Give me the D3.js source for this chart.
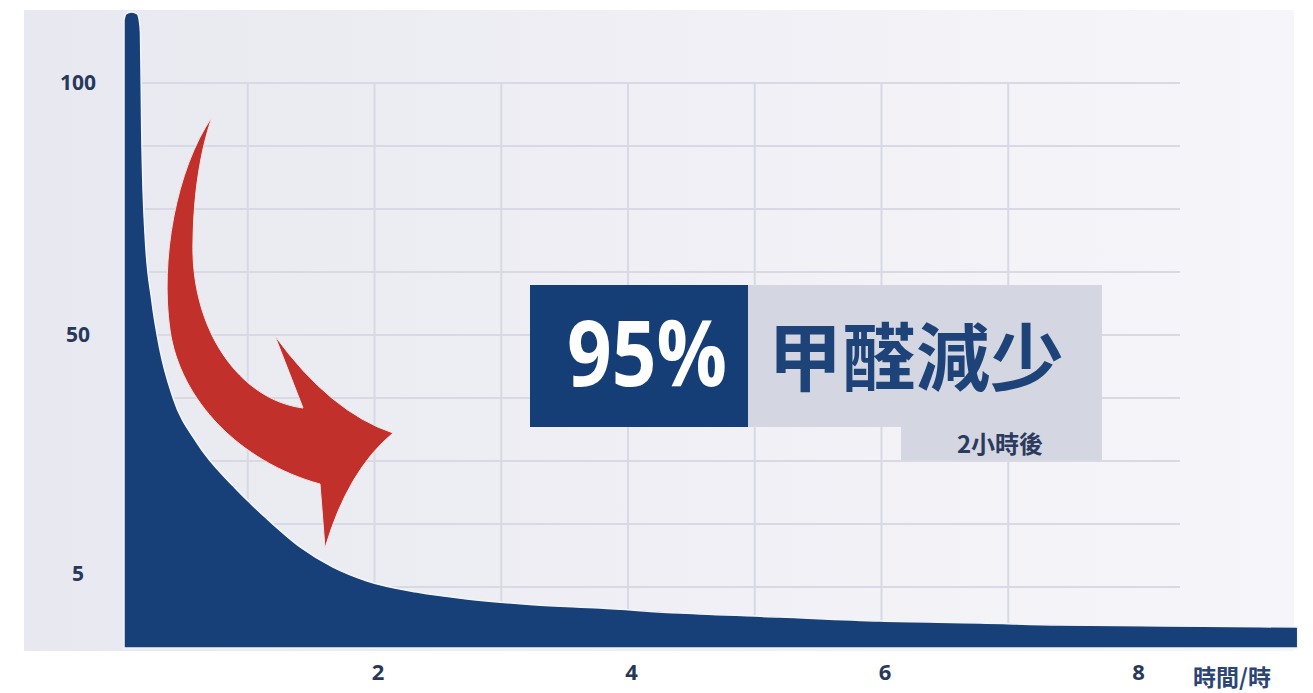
<!DOCTYPE html>
<html lang="zh-Hant">
<head>
    <meta charset="UTF-8">
    <title>甲醛減少</title>
    <style>
        body { margin: 0; background: #ffffff; font-family: "Open Sans", "Noto Sans", sans-serif; }
        .grid line { stroke: #d8d9e2; stroke-width: 2; }
        .tick-label { font-weight: 700; fill: #27385a; }
        .cjk { font-family: "Noto Sans CJK TC", "Noto Sans CJK SC", sans-serif; font-weight: 700; }
    </style>
</head>
<body>
    <svg id="chart" width="1313" height="693"></svg>
    <script src="https://d3js.org/d3.v7.min.js"></script>
    <script>
        // curve: formaldehyde level over time (hours)
        const hours = [0, 0.015, 0.06, 0.105, 0.12, 0.13, 0.14, 0.166, 0.2185, 0.284, 0.387, 0.576, 0.86, 1.128, 1.389, 1.649, 1.917, 2.31, 2.706, 3.227, 3.755, 4.387, 5.175, 5.964, 6.753, 7.385, 9.26];
        const level = [112.5, 113.7, 114.1, 113.7, 112.5, 110, 90, 70, 57, 47.2, 38.2, 29.7, 21.6, 15.4, 10.1, 6.3, 4.53, 3.78, 3.31, 2.93, 2.7, 2.36, 2.09, 1.82, 1.69, 1.55, 1.42];

        const xTicks = [2, 4, 6, 8];
        const yTicks = [100, 50, 5];
        const gridHours = [1, 2, 3, 4, 5, 6, 7];
        const gridRows = [0, 1, 2, 3, 4, 5, 6, 7, 8];

        const svg = d3.select("#chart");

        const x = d3.scaleLinear().domain([0, 8]).range([124, 1138]);
        // uneven value axis, as in the original graphic
        const y = d3.scaleLinear().domain([0, 5, 50, 100]).range([648, 574, 335, 83]);
        const rowY = d3.scaleLinear().domain([0, 8]).range([83, 587]);

        // background panel
        const defs = svg.append("defs");
        const grad = defs.append("linearGradient").attr("id", "panelGrad");
        grad.append("stop").attr("offset", "0%").attr("stop-color", "#e8e8f0");
        grad.append("stop").attr("offset", "100%").attr("stop-color", "#f6f6fa");

        svg.append("rect")
            .attr("x", 24).attr("y", 10)
            .attr("width", 1270).attr("height", 641)
            .attr("fill", "url(#panelGrad)");

        // grid
        const grid = svg.append("g").attr("class", "grid");
        grid.selectAll(".h").data(gridRows).enter().append("line")
            .attr("x1", x(0)).attr("x2", 1180)
            .attr("y1", d => rowY(d)).attr("y2", d => rowY(d));
        grid.selectAll(".v").data(gridHours).enter().append("line")
            .attr("x1", d => x(d) - 3).attr("x2", d => x(d) - 3)
            .attr("y1", rowY(0)).attr("y2", 648);

        // area
        const data = hours.map((h, i) => ({ h: h, v: level[i] }));
        const area = d3.area()
            .x(d => x(d.h))
            .y0(y(0))
            .y1(d => y(d.v))
            .curve(d3.curveMonotoneX);

        svg.append("path")
            .datum(data)
            .attr("d", area)
            .attr("fill", "#173f78")
            .attr("stroke", "#f4f5fa")
            .attr("stroke-width", 1.5);

        // red arrow annotation
        const p = d3.path();
        p.moveTo(212, 117);
        p.bezierCurveTo(176, 170, 160, 260, 170, 330);
        p.bezierCurveTo(180, 400, 240, 462, 320, 484);
        p.lineTo(325, 548);
        p.quadraticCurveTo(348, 470, 393, 433);
        p.quadraticCurveTo(330, 412, 275, 336);
        p.lineTo(303, 408);
        p.bezierCurveTo(240, 400, 190, 330, 193, 240);
        p.bezierCurveTo(194, 180, 204, 140, 212, 117);
        p.closePath();
        svg.append("path")
            .attr("d", p.toString())
            .attr("fill", "#c1302b")
            .attr("stroke", "#f3e6e6")
            .attr("stroke-width", 1);

        // axes
        const xAxis = d3.axisBottom(x).tickValues(xTicks).tickSize(0).tickPadding(16);
        const gx = svg.append("g").attr("transform", `translate(0, 648)`).call(xAxis);
        gx.select(".domain").remove();
        gx.selectAll("text")
            .attr("class", "tick-label")
            .style("font-size", "22px")
            .style("font-family", "'Open Sans', sans-serif")
            .attr("fill", "#1f3a6a");

        svg.append("g").selectAll("text").data(yTicks).enter().append("text")
            .attr("class", "tick-label")
            .attr("x", 78)
            .attr("y", d => y(d))
            .attr("dy", "0.35em")
            .attr("text-anchor", "middle")
            .style("font-size", "21px")
            .text(d => d);

        svg.append("text")
            .attr("class", "cjk")
            .attr("x", 1232).attr("y", 686)
            .attr("text-anchor", "middle")
            .attr("fill", "#2b4676")
            .style("font-size", "23px")
            .text("時間/時");

        // label box
        const box = svg.append("g");
        box.append("rect").attr("x", 748).attr("y", 285).attr("width", 354).attr("height", 142).attr("fill", "#d4d6e1");
        box.append("rect").attr("x", 901).attr("y", 427).attr("width", 201).attr("height", 33).attr("fill", "#d4d6e1");
        box.append("rect").attr("x", 530).attr("y", 285).attr("width", 218).attr("height", 142).attr("fill", "#163e76");

        box.append("text")
            .attr("x", 567).attr("y", 386)
            .attr("textLength", 160)
            .attr("lengthAdjust", "spacingAndGlyphs")
            .attr("fill", "#ffffff")
            .style("font-family", "'Open Sans', sans-serif")
            .style("font-weight", 700)
            .style("font-size", "92px")
            .text("95%");

        box.append("text")
            .attr("class", "cjk")
            .attr("x", 916).attr("y", 352)
            .attr("text-anchor", "middle")
            .attr("dominant-baseline", "central")
            .attr("fill", "#1e4378")
            .style("font-size", "74px")
            .text("甲醛減少");

        box.append("text")
            .attr("class", "cjk")
            .attr("x", 1000).attr("y", 442)
            .attr("text-anchor", "middle")
            .attr("dominant-baseline", "central")
            .attr("fill", "#2c3a5e")
            .style("font-size", "24px")
            .text("2小時後");
    </script>
</body>
</html>
